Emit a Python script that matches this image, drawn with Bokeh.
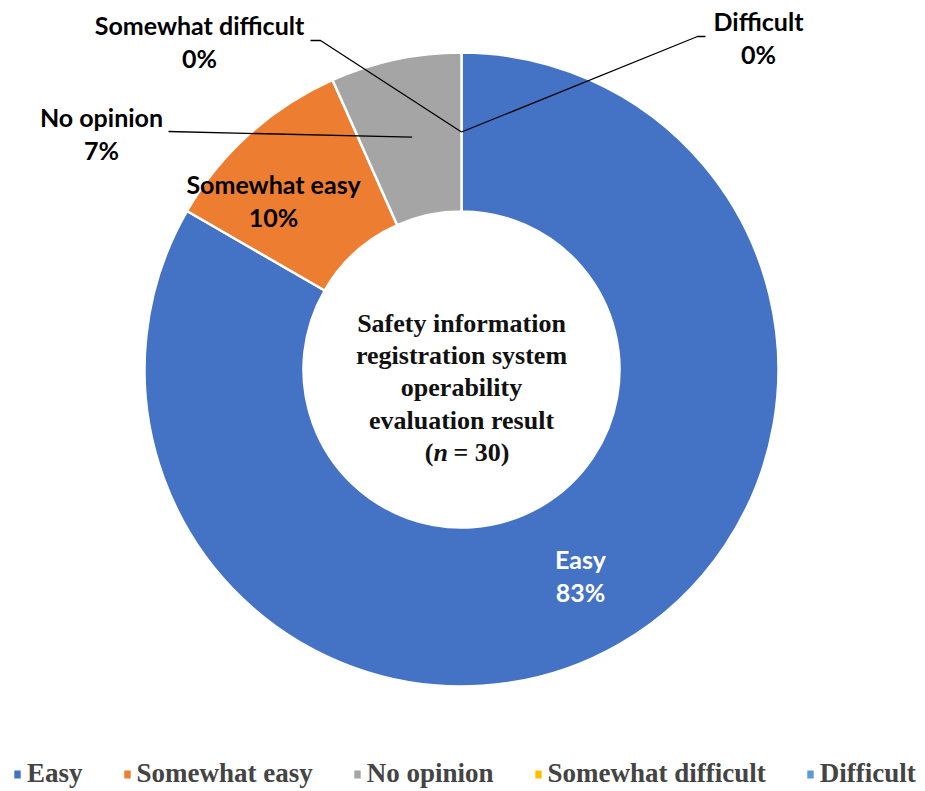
import math
from bokeh.plotting import figure
from bokeh.models import ColumnDataSource, Range1d, Legend, LegendItem
from bokeh.core.properties import value
from bokeh.embed import file_html
from bokeh.resources import INLINE

# ---- data ----
categories = ["Easy", "Somewhat easy", "No opinion", "Somewhat difficult", "Difficult"]
counts = [25, 3, 2, 0, 0]
colors = ["#4472C4", "#ED7D31", "#A5A5A5", "#FFC000", "#5B9BD5"]
center_lines = ["Safety information", "registration system", "operability", "evaluation result"]

W, H = 924, 790
p = figure(width=W, height=H, output_backend="svg", toolbar_location=None,
           x_range=Range1d(0, W), y_range=Range1d(0, H), min_border=0)
p.axis.visible = False
p.grid.visible = False
p.outline_line_color = None
p.background_fill_color = None
p.border_fill_color = "white"

def fy(py):
    return H - py

def fx(px):
    return px

cx, cy = fx(461), fy(369)
r_in, r_out = 158, 317
r_mid = (r_in + r_out) / 2

total = sum(counts)
fracs = [c / total for c in counts]
starts, ends, mids = [], [], []
cum = 0.0
for f in fracs:
    a0 = math.pi / 2 - cum * 2 * math.pi
    cum += f
    a1 = math.pi / 2 - cum * 2 * math.pi
    starts.append(a0)
    ends.append(a1)
    mids.append((a0 + a1) / 2)

nz = [i for i, c in enumerate(counts) if c > 0]
src = ColumnDataSource(dict(category=[categories[i] for i in nz],
                            color=[colors[i] for i in nz],
                            start=[ends[i] for i in nz], end=[starts[i] for i in nz]))
p.annular_wedge(x=cx, y=cy, inner_radius=r_in, outer_radius=r_out,
                start_angle="start", end_angle="end", direction="anticlock",
                fill_color="color", line_color="white", line_width=2.5, source=src)

# legend swatches (not drawn in plot area)
nan = float("nan")
lsw = ColumnDataSource(dict(l=[nan] * 5, r=[nan] * 5, t=[nan] * 5, b=[nan] * 5, color=colors))
qr = p.quad(left="l", right="r", top="t", bottom="b", fill_color="color", line_color=None, source=lsw)
items = [LegendItem(label=c, renderers=[qr], index=i) for i, c in enumerate(categories)]
legend = Legend(items=items, orientation="horizontal", location=(13, 1),
                label_text_font="Liberation Serif", label_text_font_style="bold",
                label_text_font_size="27px", glyph_width=8, glyph_height=10,
                label_standoff=6, spacing=40, padding=0, margin=0,
                border_line_color=None, background_fill_alpha=0)
p.add_layout(legend)

# slice labels (percentages from data)
pct = [f"{round(f * 100)}%" for f in fracs]
label_pos = [(580, 558), (273, 183), (101, 116), (199, 24), (758, 20)]
lab_x = [fx(x) for x, y in label_pos]
lab_y1 = [fy(y) for x, y in label_pos]
lab_y2 = [fy(y + 33) for x, y in label_pos]
tcol = ["white", "black", "black", "black", "black"]
lsrc = ColumnDataSource(dict(x=lab_x, y1=lab_y1, y2=lab_y2, name=categories, pct=pct, col=tcol))
for fld, yy in (("name", "y1"), ("pct", "y2")):
    p.text(x="x", y=yy, text=fld, source=lsrc, text_color="col",
           text_font=value("Lato"), text_font_style="bold", text_font_size="25px",
           text_align="center", text_baseline="middle")

# leader lines for outside labels
starts_px = {2: [(168, 131)], 3: [(310, 40), (320, 40)], 4: [(705, 36), (697, 36)]}
for i, pts in starts_px.items():
    xs = [fx(x) for x, y in pts]
    ys = [fy(y) for x, y in pts]
    xs.append(cx + r_mid * math.cos(mids[i]))
    ys.append(cy + r_mid * math.sin(mids[i]))
    p.line(xs, ys, line_color="black", line_width=1.3)

# center text
line_y = [323, 355, 387, 420]
FS = "26px"
p.text(x=[cx] * 4, y=[fy(v) for v in line_y], text=center_lines,
       text_font=value("Liberation Serif"), text_font_style="bold", text_font_size=FS,
       text_align="center", text_baseline="middle", text_color="#111111")
p.text(x=[fx(433)], y=[fy(452)], text=["("], text_font=value("Liberation Serif"),
       text_font_style="bold", text_font_size=FS, text_align="right",
       text_baseline="middle", text_color="#111111")
p.text(x=[fx(433)], y=[fy(452)], text=["n"], text_font=value("Liberation Serif"),
       text_font_style="bold italic", text_font_size=FS, text_align="left",
       text_baseline="middle", text_color="#111111")
p.text(x=[fx(453)], y=[fy(452)], text=[f"= {total})"], text_font=value("Liberation Serif"),
       text_font_style="bold", text_font_size=FS, text_align="left",
       text_baseline="middle", text_color="#111111")

open("out.html", "w").write(file_html(p, INLINE))
